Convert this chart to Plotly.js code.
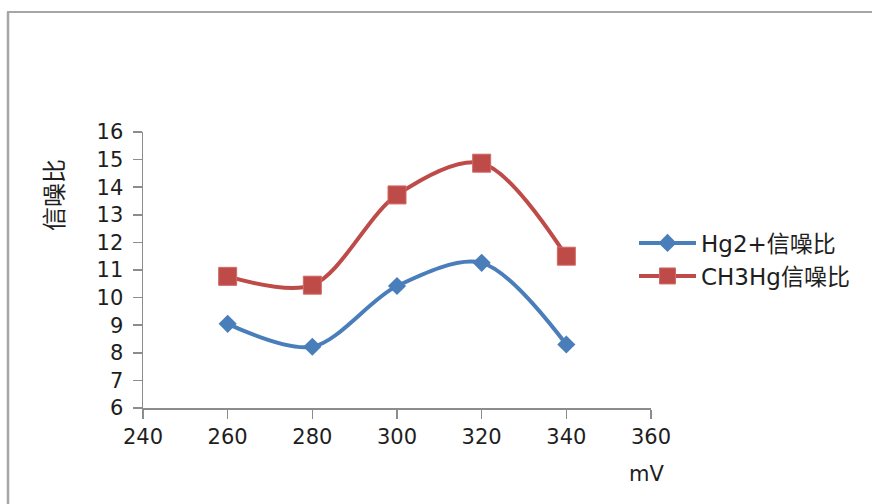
<!DOCTYPE html>
<html>
<head>
<meta charset="utf-8">
<script src="https://cdn.plot.ly/plotly-3.0.1.min.js"></script>
<style>
  html, body { margin: 0; padding: 0; background: #fff; }
  #chart { width: 872px; height: 504px; }
</style>
</head>
<body>
<div id="chart"></div>
<script>
// Signal-to-noise ratio versus potential (mV)
const potentials = [260, 280, 300, 320, 340];
const hg2Snr = [9.05, 8.22, 10.42, 11.26, 8.3];
const ch3hgSnr = [10.77, 10.45, 13.72, 14.87, 11.5];
const seriesNames = ['Hg2+信噪比', 'CH3Hg信噪比'];

const FONT = 'DejaVu Sans, "Noto Sans CJK SC", sans-serif';
const AXIS_GRAY = '#8c8c8c';
const TEXT = '#1e1e1e';

const plotL = 143, plotR = 651, plotT = 132, plotB = 408;
const W = 872, H = 504;
const px = v => (v - plotL) / (plotR - plotL);
const py = v => (plotB - v) / (plotB - plotT);

const traces = [
  {
    x: potentials, y: hg2Snr, name: seriesNames[0],
    type: 'scatter', mode: 'lines+markers',
    line: { color: '#4a7ebb', width: 4, shape: 'spline', smoothing: 0.9 },
    marker: { symbol: 'diamond', size: 14, color: '#4a7ebb' },
    legend: 'legend'
  },
  {
    x: potentials, y: ch3hgSnr, name: seriesNames[1],
    type: 'scatter', mode: 'lines+markers',
    line: { color: '#be4b48', width: 4, shape: 'spline', smoothing: 0.9 },
    marker: { symbol: 'square', size: 18, color: '#be4b48',
              line: { color: '#d06a67', width: 1 } },
    legend: 'legend2'
  }
];

const legendCommon = {
  xanchor: 'left', yanchor: 'middle',
  font: { family: FONT, size: 23, color: TEXT },
  bgcolor: 'rgba(0,0,0,0)', itemwidth: 57
};

const tickFont = { family: FONT, size: 21, color: TEXT };

const layout = {
  width: W, height: H,
  margin: { l: plotL, r: W - plotR, t: plotT, b: H - plotB, pad: 0 },
  paper_bgcolor: '#fff', plot_bgcolor: '#fff',
  font: { family: FONT, size: 21, color: TEXT },
  xaxis: {
    range: [240, 360], tick0: 240, dtick: 20,
    showgrid: false, zeroline: false,
    showline: true, linecolor: AXIS_GRAY, linewidth: 1.5,
    ticks: 'outside', ticklen: 9, tickcolor: AXIS_GRAY, tickwidth: 1.5,
    tickfont: tickFont
  },
  yaxis: {
    range: [6, 16], tick0: 6, dtick: 1,
    showgrid: false, zeroline: false,
    showline: true, linecolor: AXIS_GRAY, linewidth: 1.5,
    ticks: 'outside', ticklen: 9, tickcolor: AXIS_GRAY, tickwidth: 1.5,
    ticklabelstandoff: 5,
    tickfont: tickFont
  },
  showlegend: true,
  legend: Object.assign({ x: px(634), y: py(243) }, legendCommon),
  legend2: Object.assign({ x: px(634), y: py(276) }, legendCommon),
  annotations: [
    { xref: 'paper', yref: 'paper', x: px(55), y: py(195),
      text: '信噪比', textangle: -90, showarrow: false,
      xanchor: 'center', yanchor: 'middle',
      font: { family: FONT, size: 24, color: TEXT } },
    { xref: 'paper', yref: 'paper', x: px(646), y: py(474),
      text: 'mV', showarrow: false, xanchor: 'center', yanchor: 'middle',
      font: { family: FONT, size: 21, color: TEXT } }
  ],
  shapes: [
    { type: 'line', xref: 'paper', yref: 'paper',
      x0: px(8), x1: px(8), y0: py(12), y1: py(520),
      line: { color: '#a6a6a6', width: 2.5 } },
    { type: 'line', xref: 'paper', yref: 'paper',
      x0: px(7), x1: px(880), y0: py(12), y1: py(12),
      line: { color: '#a6a6a6', width: 2 } }
  ]
};

Plotly.newPlot('chart', traces, layout, { displayModeBar: false, staticPlot: true });
</script>
</body>
</html>
